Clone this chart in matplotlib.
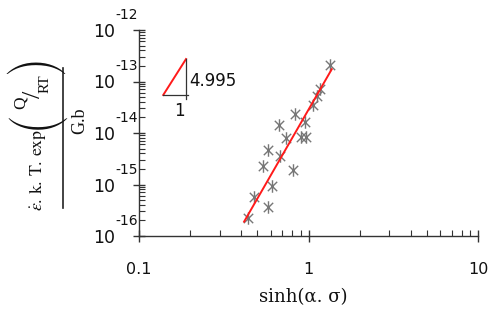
import matplotlib
matplotlib.use("Agg")
import matplotlib.pyplot as plt
from matplotlib.path import Path
from matplotlib.lines import Line2D
from matplotlib.ticker import LogLocator, FixedLocator, FuncFormatter, NullFormatter
import numpy as np

# ---- data ----
sinh_x = [1.339, 1.169, 1.122, 1.070, 0.838, 0.960, 0.674, 0.732, 0.909, 0.967,
          0.579, 0.679, 0.541, 0.810, 0.613, 0.477, 0.577, 0.441]
rate_y = [2.05e-13, 7.15e-14, 5.23e-14, 3.5e-14, 2.34e-14, 1.66e-14, 1.43e-14,
          7.82e-15, 8.18e-15, 8.36e-15, 4.68e-15, 3.58e-15, 2.26e-15, 1.94e-15,
          9.2e-16, 5.72e-16, 3.7e-16, 2.21e-16]
fit_x = [0.417, 1.371]
fit_y = [1.9e-16, 1.73e-13]
# slope triangle (red hypotenuse, black legs)
tri_x = [0.139, 0.1894]
tri_y = [5.47e-14, 2.73e-13]
slope_label = "4.995"
run_label = "1"
x_ticks = [0.1, 1, 10]
x_ticklabels = ["0.1", "1", "10"]
y_ticks = [1e-16, 1e-15, 1e-14, 1e-13, 1e-12]
y_exponents = ["-16", "-15", "-14", "-13", "-12"]

PX = 72 / 100  # points per pixel at dpi 100
W, H = 491, 312

# ---- figure ----
fig = plt.figure(figsize=(4.91, 3.12), dpi=100)
ax = fig.add_axes([139/W, 1-236/H, (478-139)/W, (236-30)/H])
ax.set_xscale('log')
ax.set_yscale('log')
ax.set_xlim(0.1, 10)
ax.set_ylim(1e-16, 1e-12)

for s in ['top', 'right']:
    ax.spines[s].set_visible(False)
for s in ['left', 'bottom']:
    ax.spines[s].set_color('#333333')
    ax.spines[s].set_linewidth(1.0)

# asterisk marker: vertical bar + X
verts = [(0, -1), (0, 1), (-0.75, -0.75), (0.75, 0.75), (-0.75, 0.75), (0.75, -0.75)]
codes = [Path.MOVETO, Path.LINETO] * 3
star = Path(verts, codes)

ax.plot(sinh_x, rate_y, linestyle='none', marker=star, markersize=9,
        markeredgecolor='#777777', markerfacecolor='none', markeredgewidth=1.0, zorder=2)
ax.plot(fit_x, fit_y, color='#ff1a1a', lw=1.4, zorder=3)

# slope triangle
ax.plot(tri_x, tri_y, color='#ff1a1a', lw=1.4)
ax.plot([tri_x[0], tri_x[1] * 1.03], [tri_y[0], tri_y[0]], color='#333333', lw=0.9)
ax.plot([tri_x[1], tri_x[1]], [tri_y[1], tri_y[0] * 0.85], color='#333333', lw=0.9)
ax.text(tri_x[1] * 1.04, np.sqrt(tri_y[0] * tri_y[1]) * 0.82, slope_label,
        fontsize=12, family='DejaVu Sans', ha='left', va='center', color='#111111')
ax.text(np.sqrt(tri_x[0] * tri_x[1]) * 1.07, tri_y[0] * 0.48, run_label,
        fontsize=12, family='DejaVu Sans', ha='center', va='center', color='#111111')

# ticks
ax.xaxis.set_major_locator(FixedLocator(x_ticks))
ax.xaxis.set_minor_locator(LogLocator(base=10, subs=np.arange(2, 10)))
ax.xaxis.set_major_formatter(FuncFormatter(lambda v, p: x_ticklabels[x_ticks.index(v)] if v in x_ticks else ""))
ax.xaxis.set_minor_formatter(NullFormatter())
ax.yaxis.set_major_locator(FixedLocator(y_ticks))
ax.yaxis.set_minor_locator(LogLocator(base=10, subs=np.arange(2, 10)))
ax.yaxis.set_major_formatter(FuncFormatter(lambda v, p: "10"))
ax.yaxis.set_minor_formatter(NullFormatter())

ax.tick_params(which='major', direction='inout', length=9, width=1.0, color='#333333')
ax.tick_params(which='minor', direction='in', length=4, width=0.8, color='#333333')
ax.tick_params(axis='x', which='major', pad=14, labelsize=11.5, labelcolor='#111111')
ax.tick_params(axis='y', which='major', pad=24 * PX - 4.5, labelsize=12.5, labelcolor='#111111')

# exponents of the y tick labels
for t, e in zip(y_ticks, y_exponents):
    ax.annotate(e, xy=(0, t), xycoords=('axes fraction', 'data'),
                xytext=(-24 * PX, 15 * PX), textcoords='offset points',
                ha='left', va='center', fontsize=10, family='DejaVu Sans',
                color='#111111', annotation_clip=False)

ax.set_xlabel(r"sinh(α. σ)", fontsize=13, family='DejaVu Serif', color='#111111')
ax.xaxis.set_label_coords((303 - 139) / (478 - 139), -(297 - 236) / (236 - 30))
ax.xaxis.label.set_va('center')

# y label: numerator pieces, fraction bar, denominator
def ftext(xp, yp, s, size, **kw):
    return fig.text(xp / W, 1 - yp / H, s, rotation=90, ha='center', va='center',
                    fontsize=size, color='#111111', **kw)

ftext(37, 170, r"$\dot{\varepsilon}.\,\mathrm{k.\,T.\,exp}$", 12.8, math_fontfamily='stix')
ftext(35, 120, "(", 17, family='STIXSizeThreeSym')
ftext(21, 103, "Q", 12.5, family='Liberation Serif')
ftext(34, 94, "/", 19, family='Liberation Serif')
ftext(45, 83.5, "RT", 11, family='Liberation Serif')
ftext(35, 64, ")", 17, family='STIXSizeThreeSym')
fig.add_artist(Line2D([63/W, 63/W], [1-208/H, 1-68/H], color='#222222', lw=1.2))
ftext(80, 121, "G.b", 13, family='Liberation Serif')

fig.savefig("out.png", dpi=100)
